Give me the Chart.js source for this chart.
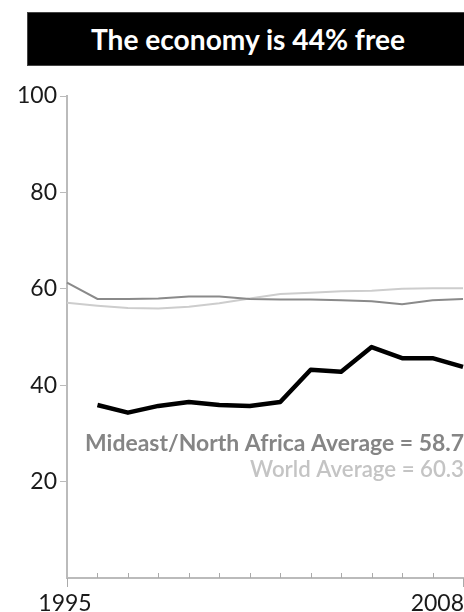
<!DOCTYPE html>
<html><head><meta charset="utf-8">
<script src="https://cdn.jsdelivr.net/npm/chart.js@4/dist/chart.umd.min.js"></script>
<style>
html,body{margin:0;padding:0;background:#fff;}
#wrap{position:relative;width:464px;height:612px;overflow:hidden;}
#title{position:absolute;left:27px;top:12px;width:460px;height:54px;background:#000;border:1px solid #444;box-sizing:border-box;}
#title span{position:absolute;left:0;top:0;width:440px;text-align:center;line-height:52px;color:#fff;font-family:Lato, "Open Sans", sans-serif;font-weight:bold;font-size:24px;white-space:nowrap;}
canvas{position:absolute;left:0;top:0;}
</style></head>
<body>
<div id="wrap">
<canvas id="c" width="464" height="612"></canvas>
<div id="title"><span id="tt">The economy is 44% free</span></div>
</div>
<script>
const years = ['1995','1996','1997','1998','1999','2000','2001','2002','2003','2004','2005','2006','2007','2008'];
const countryScores = [null, 35.9, 34.3, 35.7, 36.5, 35.9, 35.7, 36.5, 43.2, 42.8, 47.9, 45.6, 45.6, 43.8];
const regionScores = [61.3, 57.9, 57.9, 58.0, 58.4, 58.4, 57.9, 57.8, 57.8, 57.6, 57.4, 56.8, 57.6, 57.9];
const worldScores = [57.1, 56.5, 56.0, 55.9, 56.3, 57.0, 58.0, 58.9, 59.2, 59.5, 59.6, 60.0, 60.1, 60.1];
const yTicks = [20, 40, 60, 80, 100];
const xTickLabels = ['1995', '2008'];
const titleText = 'The economy is 44% free';
const regionLabel = 'Mideast/North Africa Average = 58.7';
const worldLabel = 'World Average = 60.3';

function fitFont(ctx, text, weight, family, targetW) {
  ctx.font = weight + ' 100px ' + family;
  const w = ctx.measureText(text).width;
  return 100 * targetW / w;
}

(function(){
  const cv = document.createElement('canvas').getContext('2d');
  const fs = fitFont(cv, titleText, 'bold', 'Lato', 315);
  const el = document.getElementById('tt');
  el.textContent = titleText;
  el.style.fontSize = fs.toFixed(2) + 'px';
})();

const annotations = {
  id: 'annotations',
  afterDraw(chart) {
    const ctx = chart.ctx;
    const x = chart.scales.x;
    const bottom = chart.chartArea.bottom;
    const W = chart.width;
    ctx.save();
    ctx.strokeStyle = '#aaa';
    ctx.lineWidth = 1;
    years.forEach((yr, i) => {
      const px = Math.round(x.getPixelForValue(i)) + 0.5;
      ctx.beginPath();
      if (i === 0 || i === years.length - 1) {
        ctx.moveTo(px, bottom); ctx.lineTo(px, bottom + 9);
      } else {
        ctx.moveTo(px, bottom); ctx.lineTo(px, bottom - 5);
      }
      ctx.stroke();
    });
    // x tick labels
    ctx.font = '23px Lato';
    ctx.fillStyle = '#1a1a1a';
    ctx.textAlign = 'left';
    ctx.textBaseline = 'alphabetic';
    xTickLabels.forEach(l => {
      const i = years.indexOf(l);
      const px = x.getPixelForValue(i);
      const w = ctx.measureText(l).width;
      const left = Math.min(px - w / 2 - 2, W - w);
      ctx.fillText(l, left, 611);
    });
    // average labels
    ctx.textAlign = 'right';
    ctx.textBaseline = 'middle';
    let fs = fitFont(ctx, regionLabel, 'bold', 'Lato', 379);
    ctx.font = 'bold ' + fs.toFixed(2) + 'px Lato';
    ctx.fillStyle = '#858585';
    ctx.fillText(regionLabel, 464, 444);
    fs = fitFont(ctx, worldLabel, '600', 'Lato', 214);
    ctx.font = '600 ' + fs.toFixed(2) + 'px Lato';
    ctx.fillStyle = '#c4c4c4';
    ctx.fillText(worldLabel, 464, 470);
    ctx.restore();
  }
};

new Chart(document.getElementById('c'), {
  type: 'line',
  data: {
    labels: years,
    datasets: [
      { label: 'Country', data: countryScores, borderColor: '#000', borderWidth: 4.5, pointRadius: 0, tension: 0, order: 0, borderJoinStyle: 'round', spanGaps: false },
      { label: 'Mideast/North Africa', data: regionScores, borderColor: '#8a8a8a', borderWidth: 2, pointRadius: 0, tension: 0, order: 1 },
      { label: 'World', data: worldScores, borderColor: '#cdcdcd', borderWidth: 2, pointRadius: 0, tension: 0, order: 2 }
    ]
  },
  options: {
    responsive: false,
    animation: false,
    layout: { autoPadding: false, padding: { top: 96, right: 1, left: 0, bottom: 0 } },
    plugins: { legend: { display: false }, tooltip: { enabled: false }, title: { display: false } },
    scales: {
      x: {
        type: 'category',
        offset: false,
        grid: { display: false },
        border: { display: true, color: '#bbb', width: 2 },
        ticks: { display: false },
        afterFit(s) { s.height = 34; s.paddingLeft = 0; s.paddingRight = 0; s.paddingTop = 0; s.paddingBottom = 0; }
      },
      y: {
        min: 0, max: 100,
        afterBuildTicks(s) { s.ticks = yTicks.map(v => ({ value: v })); },
        grid: { drawOnChartArea: false, tickLength: 7, color: '#bbb', lineWidth: 1 },
        border: { display: true, color: '#bbb', width: 2 },
        ticks: { padding: 3, color: '#1a1a1a', font: { family: 'Lato', size: 23 } },
        afterFit(s) { s.width = 67; s.paddingTop = 0; s.paddingBottom = 0; s.paddingLeft = 0; s.paddingRight = 0; }
      }
    }
  },
  plugins: [annotations]
});
</script>
</body></html>
